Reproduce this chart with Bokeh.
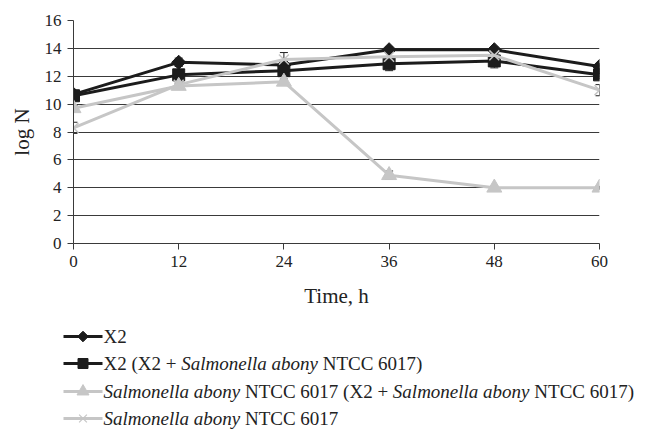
import math
from bokeh.plotting import figure
from bokeh.models import Range1d, FixedTicker, Whisker, TeeHead, ColumnDataSource
from bokeh.core.properties import value
from bokeh.embed import file_html
from bokeh.resources import INLINE

# ---- data ----
hours = [0, 12, 24, 36, 48, 60]
x2 = [10.7, 13.0, 12.8, 13.9, 13.9, 12.7]
x2_err = [0.2, 0.3, 0.2, 0.2, 0.2, 0.2]
x2_mix = [10.6, 12.1, 12.4, 12.9, 13.1, 12.1]
x2_mix_err = [0.2, 0.3, 0.3, 0.5, 0.5, 0.3]
sal_mix = [9.7, 11.3, 11.6, 4.9, 4.0, 4.0]
sal_mix_err = [0.2, 0.2, 0.2, 0.3, 0.1, 0.1]
sal = [8.3, 11.4, 13.2, 13.4, 13.5, 11.0]
sal_err = [0.4, 0.2, 0.5, 0.3, 0.3, 0.4]

x_ticks = [0, 12, 24, 36, 48, 60]
y_ticks = [0, 2, 4, 6, 8, 10, 12, 14, 16]

BLACK = "#1c1c1c"
GRAY = "#c6c6c6"
FONT = "Liberation Serif"

p = figure(width=646, height=310, x_range=Range1d(0, 60), y_range=Range1d(0, 16),
           output_backend="svg", toolbar_location=None,
           min_border_left=73, min_border_right=47, min_border_top=20, min_border_bottom=67)
p.outline_line_color = None
p.xgrid.grid_line_color = None
p.ygrid.grid_line_color = "#3a3a3a"
p.ygrid.grid_line_width = 1
p.xaxis.ticker = FixedTicker(ticks=x_ticks)
p.yaxis.ticker = FixedTicker(ticks=y_ticks)
for ax in (p.xaxis[0], p.yaxis[0]):
    ax.axis_line_color = "#3a3a3a"
    ax.axis_line_width = 1
    ax.major_tick_line_color = "#3a3a3a"
    ax.major_tick_out = 6
    ax.major_tick_in = 0
    ax.minor_tick_line_color = None
    ax.major_label_text_font = FONT
    ax.major_label_text_font_size = "17px"
    ax.major_label_text_color = "#222222"
    ax.axis_label_text_font = FONT
    ax.axis_label_text_font_size = "21px"
    ax.axis_label_text_font_style = "normal"
    ax.axis_label_text_color = "#222222"
p.xaxis.axis_label = "Time, h"
p.yaxis.axis_label = "log N"
p.xaxis.major_label_standoff = 6
p.yaxis.major_label_standoff = 6
p.xaxis.axis_label_standoff = 14
p.yaxis.axis_label_standoff = 8

series = [
    (x2, x2_err, BLACK, "diamond"),
    (x2_mix, x2_mix_err, BLACK, "square"),
    (sal_mix, sal_mix_err, GRAY, "triangle"),
    (sal, sal_err, GRAY, "x"),
]

for vals, errs, col, mk in series:
    src = ColumnDataSource(dict(x=hours, y=vals,
                                lo=[v - e for v, e in zip(vals, errs)],
                                hi=[v + e for v, e in zip(vals, errs)]))
    p.line("x", "y", source=src, line_color=col, line_width=3)
    p.add_layout(Whisker(base="x", upper="hi", lower="lo", source=src,
                         line_color="#222222", line_width=1,
                         upper_head=TeeHead(size=8, line_color="#222222", line_width=1),
                         lower_head=TeeHead(size=8, line_color="#222222", line_width=1)))
    if mk == "diamond":
        p.scatter("x", "y", source=src, marker="square", angle=math.pi / 4, size=10,
                  fill_color=col, line_color=col)
    elif mk == "square":
        p.scatter("x", "y", source=src, marker="square", size=12, fill_color=col, line_color=col)
    elif mk == "triangle":
        p.scatter("x", "y", source=src, marker="triangle", size=15, fill_color=col, line_color=col)
    else:
        p.scatter("x", "y", source=src, marker="x", size=14, line_color=col, line_width=1.5)

# ---- legend (drawn in a separate pixel-scaled panel) ----
leg = figure(width=646, height=119, x_range=Range1d(0, 646), y_range=Range1d(119, 0),
             output_backend="svg", toolbar_location=None, min_border=0)
leg.axis.visible = False
leg.grid.visible = False
leg.outline_line_color = None

IT = dict(S=500, a=500, l=278, m=722, o=500, n=500, e=444, b=500, y=444)
RG = {"N": 722, "T": 611, "C": 667, "X": 722, "(": 333, ")": 333, "+": 564}
FS = 19


def width(txt, italic):
    tot = 0
    for ch in txt:
        if ch == " ":
            tot += 250
        elif ch.isdigit():
            tot += 500
        elif italic:
            tot += IT.get(ch, 480)
        else:
            tot += RG.get(ch, 500)
    return tot / 1000 * FS


legend_rows = [
    ("diamond", BLACK, [("X2", False)]),
    ("square", BLACK, [("X2 (X2 + ", False), ("Salmonella abony", True), (" NTCC 6017)", False)]),
    ("triangle", GRAY, [("Salmonella abony", True), (" NTCC 6017 (X2 + ", False),
                        ("Salmonella abony", True), (" NTCC 6017)", False)]),
    ("x", GRAY, [("Salmonella abony", True), (" NTCC 6017", False)]),
]
row_y = [26, 53, 81, 108]

for (mk, col, parts), yy in zip(legend_rows, row_y):
    leg.line([63, 102], [yy, yy], line_color=col, line_width=3)
    if mk == "diamond":
        leg.scatter([82.5], [yy], marker="square", angle=math.pi / 4, size=7.5, fill_color=col, line_color=col)
    elif mk == "square":
        leg.scatter([82.5], [yy], marker="square", size=10, fill_color=col, line_color=col)
    elif mk == "triangle":
        leg.scatter([82.5], [yy], marker="triangle", size=12, fill_color=col, line_color=col)
    else:
        leg.scatter([82.5], [yy], marker="x", size=11, line_color=col, line_width=1.2)
    xx = 103
    for txt, ital in parts:
        lead = len(txt) - len(txt.lstrip(" "))
        xx += lead * 0.25 * FS
        core = txt.strip(" ")
        leg.text([xx], [yy], text=[core], text_font=value(FONT), text_font_size=f"{FS}px",
                 text_font_style="italic" if ital else "normal", text_color="#222222",
                 text_baseline="middle", text_align="left")
        xx += width(txt.lstrip(" "), ital)

open("out.html", "w").write(file_html([p, leg], INLINE))
